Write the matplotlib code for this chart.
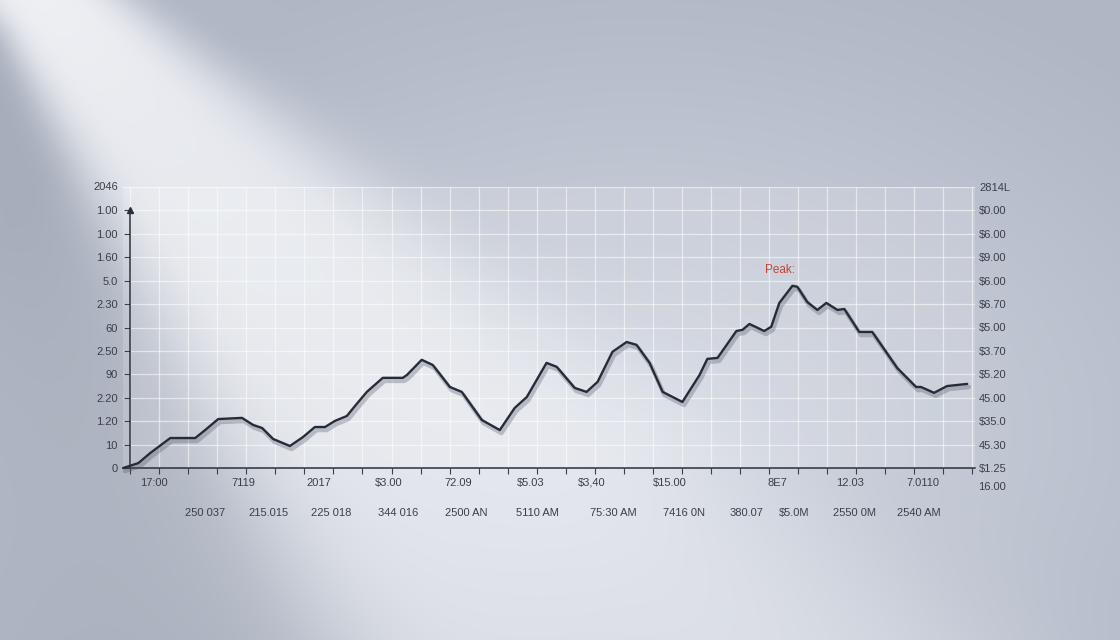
import numpy as np
import matplotlib
matplotlib.use("Agg")
import matplotlib.pyplot as plt
import matplotlib.patheffects as pe

plt.rcParams["font.family"] = ["Liberation Sans", "DejaVu Sans"]

# line values, x in tick steps, y in grid steps
x_vals = [-0.24, 0.28, 0.69, 1.38, 2.24, 2.58, 3.03, 3.85, 4.23, 4.54, 4.92, 5.50,
          5.95, 6.36, 6.71, 7.05, 7.46, 7.77, 8.15, 8.70, 9.39, 9.53, 10.04, 10.42,
          11.01, 11.42, 12.11, 12.73, 13.24, 13.66, 14.34, 14.69, 15.31, 15.72, 16.10,
          16.61, 17.10, 17.44, 17.89, 18.34, 19.02, 19.61, 19.88, 20.23, 20.88, 21.09,
          21.33, 21.84, 22.08, 22.36, 22.81, 22.98, 23.32, 23.67, 23.98, 24.36, 24.60,
          25.11, 25.56, 26.42, 27.07, 27.24, 27.69, 28.14, 28.83]
y_vals = [0.00, 0.21, 0.64, 1.28, 1.28, 1.62, 2.09, 2.14, 1.84, 1.71, 1.24, 0.94,
          1.32, 1.75, 1.75, 2.01, 2.22, 2.69, 3.25, 3.85, 3.85, 3.97, 4.62, 4.40,
          3.46, 3.25, 2.05, 1.62, 2.56, 3.03, 4.49, 4.32, 3.42, 3.25, 3.68,
          4.96, 5.38, 5.26, 4.49, 3.25, 2.82, 3.97, 4.66, 4.70, 5.85, 5.90,
          6.15, 5.85, 6.03, 7.05, 7.78, 7.74, 7.09, 6.75, 7.05, 6.75, 6.79,
          5.81, 5.81, 4.27, 3.46, 3.46, 3.21, 3.50, 3.59]

left_labels = ["0", "10", "1.20", "2.20", "90", "2.50", "60", "2.30", "5.0",
               "1.60", "1.00", "1.00"]
left_top = "2046"
right_labels = ["$1.25", "45.30", "$35.0", "45.00", "$5.20", "$3.70", "$5.00",
                "$6.70", "$6.00", "$9.00", "$6.00", "$0.00", "2814L"]
right_extra = "16.00"

row1_pos = [0.83, 3.9, 6.5, 8.9, 11.3, 13.8, 15.9, 18.6, 22.3, 24.8, 27.3]
row1_labels = ["17:00", "7119", "2017", "$3.00", "72.09", "$5.03", "$3,40",
               "$15.00", "8E7", "12.03", "7.0110"]
row2_pos = [2.58, 4.75, 6.91, 9.22, 11.56, 14.04, 16.65, 19.09, 21.22, 22.87,
            24.94, 27.18]
row2_labels = ["250 037", "215.015", "225 018", "344 016", "2500 AN", "5110 AM",
               "75:30 AM", "7416 0N", "380.07", "$5.0M", "2550 0M", "2540 AM"]
peak_text = "Peak:"

W, H = 1120, 640
fig = plt.figure(figsize=(11.2, 6.4), dpi=100)

# background with light beam
yy, xx = np.mgrid[0:H, 0:W]
r = np.sqrt(((xx - 640) / 700.0) ** 2 + ((yy - 430) / 480.0) ** 2)
t = np.clip(r, 0, 1)[..., None]
light = np.array([210, 215, 225]) / 255
dark = np.array([176, 183, 197]) / 255
base = light * (1 - t) + dark * t
dx, dy = 540.0, 640.0
L = np.hypot(dx, dy)
d = ((xx - 45) * dy - yy * dx) / L
along = np.clip(((xx - 45) * dx + yy * dy) / L, 0, None)
w = 55 + 0.22 * along
beam = np.exp(-(d / w) ** 4) * (0.88 - 0.38 * np.clip(along / L, 0, 1))
shade = 0.05 * np.exp(-((d + 1.7 * w) / w) ** 2)
base = base * (1 - shade[..., None])
img = base * (1 - beam[..., None]) + np.array([246, 247, 250]) / 255 * beam[..., None]
bg = fig.add_axes([0, 0, 1, 1], zorder=-1)
bg.imshow(img, aspect="auto")
bg.axis("off")

ax = fig.add_axes([123 / W, (H - 468) / H, (975 - 123) / W, 281 / H])
ax.set_facecolor((1, 1, 1, 0.15))
ax.set_xlim(-0.25, 29.1)
ax.set_ylim(0, 12)

ax.plot(x_vals, y_vals, color="#262b38", lw=1.7, solid_joinstyle="round",
        solid_capstyle="round", clip_on=False, zorder=5,
        path_effects=[pe.SimpleLineShadow(offset=(1.2, -2.2), shadow_color="#4a5060",
                                          alpha=0.3, linewidth=3.2), pe.Normal()])

pk = int(np.argmax(y_vals))
ax.annotate(peak_text, (x_vals[pk], y_vals[pk]), xytext=(-9, 11.5),
            textcoords="offset points", ha="center", va="center",
            color="#c8423a", fontsize=8.5)

# grid and ticks
ax.set_xticks(np.arange(0, 30), minor=True)
ax.set_xticks(row1_pos)
ax.set_xticklabels(row1_labels)
ax.set_yticks(np.arange(0, 12))
ax.set_yticklabels(left_labels)
ax.grid(True, which="minor", axis="x", color="white", lw=0.9, alpha=0.55)
ax.grid(True, which="major", axis="y", color="white", lw=0.9, alpha=0.55)
ax.axhline(12, color="white", lw=0.9, alpha=0.55)
ax.tick_params(axis="x", which="minor", length=4, width=0.8, color="#3a3f4a")
ax.tick_params(axis="x", which="major", length=0, pad=7, labelsize=8,
               labelcolor="#3a3f4a")
ax.tick_params(axis="y", length=4, width=0.8, pad=5, labelsize=8,
               color="#3a3f4a", labelcolor="#3a3f4a")
ax.text(-0.42, 12, left_top, ha="right", va="center", fontsize=8,
        color="#3a3f4a", clip_on=False)

for s in ["top", "right"]:
    ax.spines[s].set_visible(False)
ax.spines["bottom"].set_color("#2a2f3b")
ax.spines["bottom"].set_linewidth(1.1)
ax.spines["left"].set_position(("data", 0))
ax.spines["left"].set_bounds(0, 11)
ax.spines["left"].set_color("#2a2f3b")
ax.spines["left"].set_linewidth(1.1)
ax.plot([0], [11], marker="^", ms=5, color="#2a2f3b", clip_on=False)

sec = ax.secondary_xaxis("bottom")
sec.set_xticks(row2_pos)
sec.set_xticklabels(row2_labels)
sec.tick_params(length=0, pad=29, labelsize=8, labelcolor="#3a3f4a")
sec.spines["bottom"].set_visible(False)

ax2 = ax.twinx()
ax2.set_ylim(0, 12)
ax2.set_yticks(np.arange(0, 13))
ax2.set_yticklabels(right_labels)
ax2.tick_params(length=0, pad=3, labelsize=8, labelcolor="#3a3f4a")
for s in ax2.spines.values():
    s.set_visible(False)
ax2.text(1.004, -0.81, right_extra, transform=ax2.get_yaxis_transform(),
         ha="left", va="center", fontsize=8, color="#3a3f4a")

fig.savefig("out.png", dpi=100)
